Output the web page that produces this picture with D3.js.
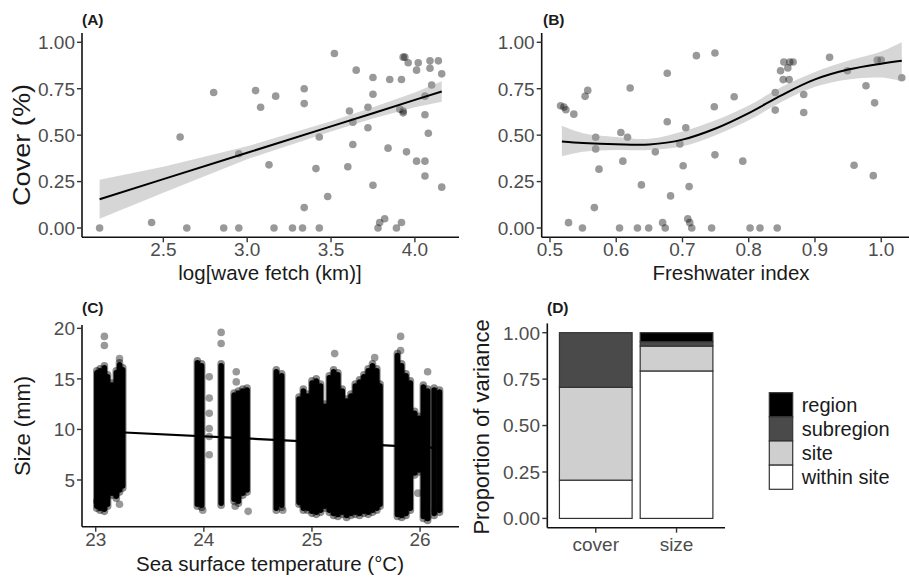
<!DOCTYPE html>
<html>
<head>
<meta charset="utf-8">
<script src="https://cdn.jsdelivr.net/npm/d3@7"></script>
<style>
  body { margin: 0; background: #fff; }
  svg { display: block; font-family: "Liberation Sans", Arial, sans-serif; }
  .tick-text { fill: #4d4d4d; font-size: 19px; }
  .axis-title { fill: #1a1a1a; font-size: 20.5px; }
  .panel-tag { fill: #1a1a1a; font-size: 15.5px; font-weight: bold; }
  .legend-text { fill: #1a1a1a; font-size: 20px; }
</style>
</head>
<body>
<div id="chart"></div>
<script>
// (A) cover vs log wave fetch
const fetchX = [2.12, 2.43, 2.60, 2.64, 2.80, 2.86, 2.95, 2.95, 3.05, 3.08, 3.16, 3.17, 3.13, 3.27, 3.33,
  3.34, 3.34, 3.34, 3.41, 3.43, 3.43, 3.48, 3.52, 3.60, 3.61, 3.63, 3.63, 3.65, 3.72, 3.72, 3.75, 3.75,
  3.75, 3.79, 3.78, 3.82, 3.84, 3.85, 3.89, 3.92, 3.92, 3.93, 3.94, 3.91, 3.93, 3.93, 3.95, 3.96, 4.01,
  4.01, 4.02, 4.06, 4.06, 4.06, 4.08, 4.09, 4.09, 4.10, 4.06, 4.14, 4.16, 4.16];
const fetchCover = [0, 0.03, 0.49, 0, 0.73, 0, 0, 0.40, 0.74, 0.65, 0, 0.71, 0.34, 0, 0,
  0.75, 0.67, 0.11, 0.32, 0, 0.49, 0.17, 0.94, 0.33, 0.63, 0.57, 0.45, 0.85, 0.54, 0.65, 0.81, 0.72,
  0.23, 0.03, 0, 0.05, 0.43, 0.80, 0, 0.03, 0.80, 0.92, 0.92, 0.64, 0.63, 0.62, 0.41, 0.89, 0.36,
  0.85, 0.89, 0.36, 0.28, 0.61, 0.51, 0.90, 0.86, 0.77, 0.71, 0.90, 0.83, 0.22];
const fetchFitX = [2.12, 2.5, 3.0, 3.5, 3.75, 4.0, 4.16];
const fetchFit = [0.155, 0.263, 0.405, 0.547, 0.618, 0.690, 0.735];
const fetchLo = [0.05, 0.19, 0.37, 0.52, 0.59, 0.65, 0.68];
const fetchHi = [0.26, 0.33, 0.44, 0.575, 0.65, 0.73, 0.79];

// (B) cover vs freshwater index
const freshX = [0.516, 0.521, 0.524, 0.536, 0.528, 0.549, 0.553, 0.557, 0.567, 0.569, 0.569, 0.574,
  0.605, 0.607, 0.610, 0.617, 0.621, 0.632, 0.638, 0.649, 0.659, 0.670, 0.674, 0.677, 0.677, 0.682,
  0.696, 0.701, 0.705, 0.708, 0.710, 0.711, 0.714, 0.721, 0.744, 0.748, 0.749, 0.749, 0.778, 0.791,
  0.802, 0.817, 0.840, 0.840, 0.843, 0.848, 0.852, 0.853, 0.859, 0.861, 0.862, 0.867, 0.883, 0.883,
  0.922, 0.949, 0.959, 0.977, 0.988, 0.990, 0.994, 1.000, 1.031];
const freshCover = [0.658, 0.651, 0.637, 0.613, 0.029, 0, 0.709, 0.741, 0.11, 0.489, 0.426, 0.317,
  0, 0.514, 0.36, 0.489, 0.754, 0, 0.232, 0, 0.41, 0.029, 0, 0.572, 0.833, 0.173,
  0.453, 0.335, 0.54, 0.049, 0.223, 0.029, 0, 0.928, 0, 0.653, 0.942, 0.394, 0.707, 0.36,
  0, 0, 0.73, 0.635, 0, 0.847, 0.799, 0.894, 0.862, 0.799, 0.894, 0.894, 0.719, 0.622,
  0.919, 0.847, 0.338, 0.766, 0.282, 0.674, 0.905, 0.905, 0.809];
const freshFitX = [0.518, 0.55, 0.6, 0.65, 0.7, 0.75, 0.8, 0.85, 0.9, 0.95, 1.0, 1.031];
const freshFit = [0.466, 0.458, 0.451, 0.450, 0.476, 0.536, 0.619, 0.716, 0.800, 0.853, 0.885, 0.90];
const freshLo = [0.385, 0.41, 0.42, 0.42, 0.44, 0.50, 0.58, 0.68, 0.76, 0.80, 0.81, 0.79];
const freshHi = [0.55, 0.51, 0.49, 0.48, 0.52, 0.58, 0.66, 0.76, 0.84, 0.90, 0.95, 1.0];

// (C) size vs sea surface temperature: each site's observed size range plus stray points
const sstSites = [23.01, 23.04, 23.08, 23.11, 23.15, 23.19, 23.22, 23.25,
  23.94, 23.98, 24.16, 24.28, 24.32, 24.36, 24.40, 24.67, 24.72,
  24.88, 24.92, 24.96, 25.00, 25.04, 25.08, 25.12, 25.16, 25.20, 25.24, 25.28, 25.32, 25.36,
  25.40, 25.44, 25.48, 25.52, 25.56, 25.60, 25.63, 25.79, 25.83, 25.87, 25.91, 25.95, 25.99,
  26.03, 26.07, 26.13, 26.18];
const sizeMin = [2.2, 2.0, 1.9, 2.4, 3.5, 3.2, 3.8, 4.2,
  2.4, 2.3, 2.5, 2.9, 2.7, 3.5, 3.8, 2.0, 2.3,
  2.6, 2.0, 2.0, 1.7, 1.6, 1.8, 2.2, 1.8, 1.5, 1.4, 1.6, 1.3, 1.5,
  1.6, 1.5, 1.7, 1.6, 1.8, 2.0, 2.4, 1.4, 1.3, 1.5, 2.0, 5.5, 5.8,
  1.2, 1.0, 1.5, 1.8];
const sizeMax = [15.8, 16.0, 16.3, 15.4, 14.6, 15.8, 16.6, 16.1,
  16.8, 16.5, 16.5, 13.6, 13.8, 14.0, 14.1, 15.9, 15.5,
  13.2, 14.0, 13.5, 14.8, 15.0, 14.5, 12.5, 15.3, 15.9, 15.6, 14.0, 13.0, 13.5,
  14.5, 14.9, 15.4, 16.0, 16.5, 16.0, 14.5, 17.5, 16.5, 15.5, 14.8, 11.8, 11.3,
  14.4, 14.0, 14.1, 13.9];
const strayX = [23.01, 23.08, 23.08, 23.22, 23.22, 23.99, 24.05, 24.05, 24.05, 24.05, 24.05, 24.05,
  24.16, 24.16, 24.30, 24.30, 24.41, 24.29, 24.73, 24.90, 25.21, 25.58, 25.82, 25.82, 26.07,
  25.98, 26.07, 26.14];
const straySize = [2.9, 19.2, 18.3, 2.6, 17.0, 2.0, 15.2, 13.1, 11.6, 10.1, 9.3, 7.5,
  19.6, 18.5, 15.7, 14.7, 1.9, 2.4, 2.0, 2.7, 17.5, 17.1, 19.2, 17.8, 15.7,
  3.7, 1.3, 2.0];
const sstFitX = [23.03, 26.19];
const sstFit = [9.82, 8.16];

// (D) variance partitioning
const responses = ["cover", "size"];
const levels = ["within site", "site", "subregion", "region"];
const levelFill = ["#ffffff", "#cfcfcf", "#4a4a4a", "#000000"];
const varCover = [0.206, 0.50, 0.294, 0.0];
const varSize = [0.794, 0.134, 0.024, 0.048];

const W = 909, H = 581;
const svg = d3.select("#chart").append("svg").attr("width", W).attr("height", H);

function axisBits(g, xScale, yScale, xTicks, yTicks, yFmt, xFmt) {
  const [x0, x1] = xScale.range();
  const [yb, yt] = yScale.range();
  g.append("line").attr("x1", x0).attr("x2", x0).attr("y1", yt).attr("y2", yb)
    .attr("stroke", "#111").attr("stroke-width", 1.6);
  g.append("line").attr("x1", x0).attr("x2", x1).attr("y1", yb).attr("y2", yb)
    .attr("stroke", "#111").attr("stroke-width", 1.6);
  yTicks.forEach(function (t) {
    const y = yScale(t);
    g.append("line").attr("x1", x0 - 5).attr("x2", x0).attr("y1", y).attr("y2", y)
      .attr("stroke", "#333").attr("stroke-width", 1.4);
    g.append("text").attr("class", "tick-text").attr("x", x0 - 7).attr("y", y)
      .attr("dy", "0.36em").attr("text-anchor", "end").text(yFmt(t));
  });
  xTicks.forEach(function (t) {
    const x = xScale(t);
    g.append("line").attr("x1", x).attr("x2", x).attr("y1", yb).attr("y2", yb + 5)
      .attr("stroke", "#333").attr("stroke-width", 1.4);
    g.append("text").attr("class", "tick-text").attr("x", x).attr("y", yb + 19)
      .attr("text-anchor", "middle").text(xFmt(t));
  });
}

function scatterPanel(opts) {
  const g = svg.append("g");
  const x = opts.x, y = opts.y;
  g.selectAll("circle").data(opts.px.map((d, i) => [d, opts.py[i]])).enter()
    .append("circle")
    .attr("cx", d => x(d[0])).attr("cy", d => y(d[1])).attr("r", 3.8)
    .attr("fill", "#000").attr("fill-opacity", 0.4);
  const rows = opts.fx.map((d, i) => ({ x: d, fit: opts.fit[i], lo: opts.lo[i], hi: opts.hi[i] }));
  const area = d3.area().x(d => x(d.x)).y0(d => y(d.lo)).y1(d => y(d.hi)).curve(opts.curve);
  const line = d3.line().x(d => x(d.x)).y(d => y(d.fit)).curve(opts.curve);
  g.append("path").attr("d", area(rows)).attr("fill", "#999").attr("fill-opacity", 0.4);
  g.append("path").attr("d", line(rows)).attr("fill", "none").attr("stroke", "#000").attr("stroke-width", 2);
  axisBits(g, x, y, opts.xTicks, [0, 0.25, 0.5, 0.75, 1], d3.format(".2f"), opts.xFmt);
  return g;
}

// ---- panel A
const xA = d3.scaleLinear().domain([2.015, 4.263]).range([82, 459]);
const yA = d3.scaleLinear().domain([-0.05, 1.05]).range([237.3, 33]);
scatterPanel({ x: xA, y: yA, px: fetchX, py: fetchCover, fx: fetchFitX, fit: fetchFit, lo: fetchLo, hi: fetchHi,
  curve: d3.curveLinear, xTicks: [2.5, 3.0, 3.5, 4.0], xFmt: d3.format(".1f") });
svg.append("text").attr("class", "panel-tag").attr("x", 82).attr("y", 25).text("(A)");
svg.append("text").attr("class", "axis-title").attr("x", 270).attr("y", 280).attr("text-anchor", "middle").text("log[wave fetch (km)]");
svg.append("text").attr("class", "axis-title").attr("transform", "translate(30,145) rotate(-90)")
  .attr("text-anchor", "middle").style("font-size", "23px")
  .attr("textLength", 122).attr("lengthAdjust", "spacingAndGlyphs").text("Cover (%)");

// ---- panel B
const xB = d3.scaleLinear().domain([0.4875, 1.057]).range([541.7, 919]);
const yB = d3.scaleLinear().domain([-0.05, 1.05]).range([237.3, 33]);
scatterPanel({ x: xB, y: yB, px: freshX, py: freshCover, fx: freshFitX, fit: freshFit, lo: freshLo, hi: freshHi,
  curve: d3.curveCatmullRom, xTicks: [0.5, 0.6, 0.7, 0.8, 0.9, 1.0], xFmt: d3.format(".1f") });
svg.append("text").attr("class", "panel-tag").attr("x", 543).attr("y", 25).text("(B)");
svg.append("text").attr("class", "axis-title").attr("x", 731).attr("y", 280).attr("text-anchor", "middle").text("Freshwater index");

// ---- panel C
const xC = d3.scaleLinear().domain([22.873, 26.36]).range([82, 459]);
const yC = d3.scaleLinear().domain([0.38, 20.33]).range([526.7, 325]);
const gC = svg.append("g");
gC.append("path")
  .attr("d", d3.line().x(d => xC(d[0])).y(d => yC(d[1]))(sstFitX.map((d, i) => [d, sstFit[i]])))
  .attr("stroke", "#000").attr("stroke-width", 2.2).attr("fill", "none");
const siteRows = sstSites.map((d, i) => ({ sst: d, lo: sizeMin[i], hi: sizeMax[i] }));
gC.selectAll("line.halo").data(siteRows).enter().append("line").attr("class", "halo")
  .attr("x1", d => xC(d.sst)).attr("x2", d => xC(d.sst))
  .attr("y1", d => yC(d.lo)).attr("y2", d => yC(d.hi))
  .attr("stroke", "#000").attr("stroke-opacity", 0.45).attr("stroke-width", 7.6).attr("stroke-linecap", "round");
gC.selectAll("line.core").data(siteRows).enter().append("line").attr("class", "core")
  .attr("x1", d => xC(d.sst)).attr("x2", d => xC(d.sst))
  .attr("y1", d => yC(d.lo) - 2).attr("y2", d => yC(d.hi) + 2)
  .attr("stroke", "#000").attr("stroke-width", 5.5).attr("stroke-linecap", "round");
gC.selectAll("circle").data(strayX.map((d, i) => [d, straySize[i]])).enter().append("circle")
  .attr("cx", d => xC(d[0])).attr("cy", d => yC(d[1])).attr("r", 3.8)
  .attr("fill", "#000").attr("fill-opacity", 0.4);
axisBits(gC, xC, yC, [23, 24, 25, 26], [5, 10, 15, 20], d3.format("d"), d3.format("d"));
svg.append("text").attr("class", "panel-tag").attr("x", 82).attr("y", 313).text("(C)");
svg.append("text").attr("class", "axis-title").attr("x", 270).attr("y", 571).attr("text-anchor", "middle").text("Sea surface temperature (°C)");
svg.append("text").attr("class", "axis-title").attr("transform", "translate(30,426) rotate(-90)")
  .attr("text-anchor", "middle").style("font-size", "22px").text("Size (mm)");

// ---- panel D
const xD = d3.scaleBand().domain(responses).range([547.3, 725]).paddingInner(0.1).paddingOuter(0.15);
const yD = d3.scaleLinear().domain([-0.05, 1.05]).range([527.7, 323.4]);
const gD = svg.append("g");
const stacks = [varCover, varSize].map(function (vals, j) {
  let acc = 0;
  return vals.map(function (v, k) {
    const seg = { resp: responses[j], level: k, y0: acc, y1: acc + v };
    acc += v;
    return seg;
  });
}).flat().filter(d => d.y1 - d.y0 > 0);
gD.selectAll("rect").data(stacks).enter().append("rect")
  .attr("x", d => xD(d.resp)).attr("width", xD.bandwidth())
  .attr("y", d => yD(d.y1)).attr("height", d => yD(d.y0) - yD(d.y1))
  .attr("fill", d => levelFill[d.level]).attr("stroke", "#333").attr("stroke-width", 1.2);
const yAxD = gD.append("g");
yAxD.append("line").attr("x1", 547.3).attr("x2", 547.3).attr("y1", 323.4).attr("y2", 527.7)
  .attr("stroke", "#111").attr("stroke-width", 1.6);
yAxD.append("line").attr("x1", 547.3).attr("x2", 725).attr("y1", 527.7).attr("y2", 527.7)
  .attr("stroke", "#111").attr("stroke-width", 1.6);
[0, 0.25, 0.5, 0.75, 1].forEach(function (t) {
  yAxD.append("line").attr("x1", 542.3).attr("x2", 547.3).attr("y1", yD(t)).attr("y2", yD(t))
    .attr("stroke", "#333").attr("stroke-width", 1.4);
  yAxD.append("text").attr("class", "tick-text").attr("x", 540).attr("y", yD(t)).attr("dy", "0.36em")
    .attr("text-anchor", "end").text(d3.format(".2f")(t));
});
responses.forEach(function (r) {
  const cx = xD(r) + xD.bandwidth() / 2;
  yAxD.append("line").attr("x1", cx).attr("x2", cx).attr("y1", 527.7).attr("y2", 532.7)
    .attr("stroke", "#333").attr("stroke-width", 1.4);
  yAxD.append("text").attr("class", "tick-text").attr("x", cx).attr("y", 551)
    .attr("text-anchor", "middle").text(r);
});
svg.append("text").attr("class", "panel-tag").attr("x", 547).attr("y", 313).text("(D)");
svg.append("text").attr("class", "axis-title").attr("transform", "translate(489,427) rotate(-90)")
  .attr("text-anchor", "middle").style("font-size", "22px").text("Proportion of variance");

// legend (top to bottom: region ... within site)
const legend = svg.append("g").attr("transform", "translate(769.3,392.7)");
const legendOrder = [3, 2, 1, 0];
legendOrder.forEach(function (k, i) {
  legend.append("rect").attr("x", 0).attr("y", i * 24.15).attr("width", 23.4).attr("height", 24.15)
    .attr("fill", levelFill[k]).attr("stroke", "#333").attr("stroke-width", 1.2);
  legend.append("text").attr("class", "legend-text").attr("x", 32.4).attr("y", i * 24.15 + 12)
    .attr("dy", "0.36em").text(levels[k]);
});
</script>
</body>
</html>
